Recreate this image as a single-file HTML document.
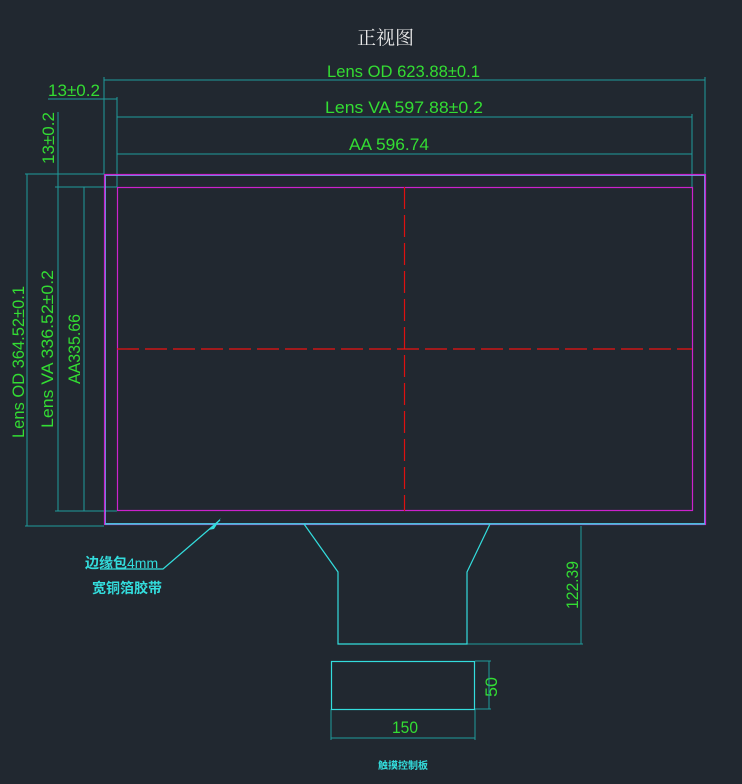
<!DOCTYPE html>
<html><head><meta charset="utf-8"><style>html,body{margin:0;padding:0;background:#212830}svg{display:block}</style></head>
<body>
<svg width="742" height="784" viewBox="0 0 742 784" xmlns="http://www.w3.org/2000/svg">
<rect width="742" height="784" fill="#212830"/>
<g font-family="Liberation Sans, DejaVu Sans, sans-serif" fill="#33dd33" font-size="17">
<text x="327" y="77" textLength="153" lengthAdjust="spacingAndGlyphs">Lens OD 623.88±0.1</text>
<text x="325" y="113" textLength="158" lengthAdjust="spacingAndGlyphs">Lens VA 597.88±0.2</text>
<text x="349" y="150" textLength="80" lengthAdjust="spacingAndGlyphs">AA 596.74</text>
<text x="48" y="96" textLength="52" lengthAdjust="spacingAndGlyphs">13±0.2</text>
<text transform="translate(54,164) rotate(-90)" textLength="52" lengthAdjust="spacingAndGlyphs">13±0.2</text>
<text transform="translate(24,438) rotate(-90)" textLength="152" lengthAdjust="spacingAndGlyphs">Lens OD 364.52±0.1</text>
<text transform="translate(53,428) rotate(-90)" textLength="158" lengthAdjust="spacingAndGlyphs">Lens VA 336.52±0.2</text>
<text transform="translate(80,384) rotate(-90)" textLength="70" lengthAdjust="spacingAndGlyphs">AA335.66</text>
<text transform="translate(578,609) rotate(-90)" textLength="48" lengthAdjust="spacingAndGlyphs">122.39</text>
<text transform="translate(497,697) rotate(-90)" textLength="20" lengthAdjust="spacingAndGlyphs">50</text>
<text x="392" y="733" textLength="26" lengthAdjust="spacingAndGlyphs">150</text>
</g>
<text x="357" y="44" font-family="Liberation Serif, Noto Serif CJK SC, serif" font-size="19" fill="#e8e8e8">正视图</text>
<g stroke="#1f9b9b" stroke-width="1" fill="none">
<line x1="104" y1="80" x2="705" y2="80"/>
<line x1="117" y1="117" x2="692" y2="117"/>
<line x1="117" y1="154" x2="692" y2="154"/>
<line x1="705" y1="77" x2="705" y2="174"/>
<line x1="692" y1="114" x2="692" y2="187"/>
<line x1="104" y1="77" x2="104" y2="174"/>
<line x1="117" y1="97" x2="117" y2="187"/>
<line x1="48" y1="99" x2="117" y2="99"/>
<line x1="58" y1="112" x2="58" y2="511"/>
<line x1="27" y1="174" x2="27" y2="526"/>
<line x1="84" y1="187" x2="84" y2="511"/>
<line x1="25" y1="174" x2="104" y2="174"/>
<line x1="55" y1="187" x2="117" y2="187"/>
<line x1="55" y1="511" x2="117" y2="511"/>
<line x1="25" y1="526" x2="104" y2="526"/>
<line x1="581" y1="526" x2="581" y2="644"/>
<line x1="467" y1="644" x2="583" y2="644"/>
<line x1="489" y1="661" x2="489" y2="709"/>
<line x1="475" y1="661" x2="491" y2="661"/>
<line x1="475" y1="709" x2="491" y2="709"/>
<line x1="331" y1="709" x2="331" y2="740"/>
<line x1="475" y1="709" x2="475" y2="740"/>
<line x1="331" y1="738" x2="475" y2="738"/>
</g>
<rect x="104.5" y="174.5" width="601" height="350" fill="none" stroke="#cc22cc" stroke-width="1.2"/>
<rect x="105.5" y="175.5" width="599" height="348" fill="none" stroke="#8899ff" stroke-width="0.8"/>
<rect x="117.5" y="187.5" width="575" height="323" fill="none" stroke="#cc22cc" stroke-width="1.2"/>
<g stroke="#dd1111" stroke-width="1.2" stroke-dasharray="22,6">
<line x1="404.5" y1="187" x2="404.5" y2="511"/>
<line x1="117" y1="349" x2="692" y2="349" stroke="#ee1111"/>
</g>
<g stroke="#33dddd" stroke-width="1.2" fill="none">
<line x1="105" y1="524" x2="705" y2="524"/>
<polyline points="304,524 338,572 338,644 467,644 467,572 490,524"/>
<rect x="331.5" y="661.5" width="143" height="48"/>
<polyline points="220,520 163,569 100,569"/>
</g>
<polygon points="208,530 221,518 214,529" fill="#33dddd"/>
<g font-family="Liberation Sans, Noto Sans CJK SC, sans-serif" fill="#33dddd" font-weight="bold">
<text x="85" y="568" font-size="14">边缘包<tspan font-weight="normal">4mm</tspan></text>
<text x="92" y="593" font-size="14">宽铜箔胶带</text>
<text x="378" y="769" font-size="10">触摸控制板</text>
</g>
</svg>
</body></html>
